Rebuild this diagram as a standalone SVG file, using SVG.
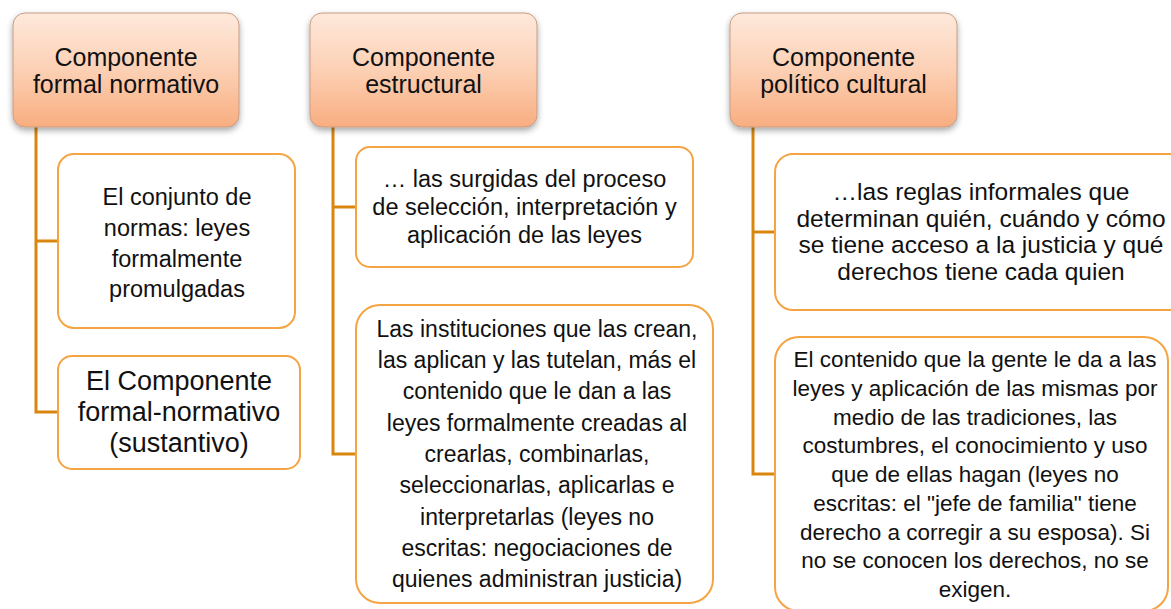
<svg xmlns="http://www.w3.org/2000/svg" width="1171" height="609" viewBox="0 0 1171 609">
<defs>
<linearGradient id="hg" x1="0" y1="0" x2="0" y2="1">
<stop offset="0" stop-color="#fee9dc"/>
<stop offset="0.5" stop-color="#fcd0b4"/>
<stop offset="1" stop-color="#f8ad80"/>
</linearGradient>
<filter id="sh" x="-10%" y="-10%" width="120%" height="130%">
<feDropShadow dx="0" dy="3" stdDeviation="3" flood-color="#000" flood-opacity="0.35"/>
</filter>
</defs>
<style>
.hdr{fill:url(#hg);stroke:#c79c82;stroke-width:1;filter:url(#sh)}
.box{fill:#fff;stroke:#f5a443;stroke-width:2}
.con{fill:none;stroke:#d9860f;stroke-width:3}
text{font-family:"Liberation Sans",Arial,sans-serif;fill:#111;text-anchor:middle}
.h{font-size:25px}
</style>
<rect width="1171" height="609" fill="#fff"/>
<g id="connectors">
<path class="con" d="M36 127 V412 H58 M36 241 H58"/>
<path class="con" d="M333 127 V454 H356 M333 207 H356"/>
<path class="con" d="M753 127 V474 H775 M753 232 H775"/>
</g>
<g id="header1">
<rect class="hdr" x="13" y="13" width="226" height="114" rx="12"/>
<text class="h" x="126" y="66">Componente</text>
<text class="h" x="126" y="93">formal normativo</text>
</g>
<g id="header2">
<rect class="hdr" x="310" y="13" width="227" height="114" rx="12"/>
<text class="h" x="423.5" y="66">Componente</text>
<text class="h" x="423.5" y="93">estructural</text>
</g>
<g id="header3">
<rect class="hdr" x="730" y="13" width="227" height="114" rx="12"/>
<text class="h" x="843.5" y="66">Componente</text>
<text class="h" x="843.5" y="93">político cultural</text>
</g>
<g id="c1a">
<rect class="box" x="58" y="154" width="237" height="174" rx="16"/>
<text font-size="23.5" x="177" y="205">El conjunto de</text>
<text font-size="23.5" x="177" y="236">normas: leyes</text>
<text font-size="23.5" x="177" y="267">formalmente</text>
<text font-size="23.5" x="177" y="297">promulgadas</text>
</g>
<g id="c1b">
<rect class="box" x="58" y="356" width="242" height="113" rx="14"/>
<text font-size="27" x="179" y="390">El Componente</text>
<text font-size="27" x="179" y="421">formal-normativo</text>
<text font-size="27" x="179" y="452">(sustantivo)</text>
</g>
<g id="c2a">
<rect class="box" x="356" y="147" width="337" height="120" rx="14"/>
<text font-size="23.5" x="524.5" y="187">… las surgidas del proceso</text>
<text font-size="23.5" x="524.5" y="215">de selección, interpretación y</text>
<text font-size="23.5" x="524.5" y="243">aplicación de las leyes</text>
</g>
<g id="c2b">
<rect class="box" x="356" y="305" width="357" height="298" rx="24"/>
<text font-size="23" x="537" y="337">Las instituciones que las crean,</text>
<text font-size="23" x="537" y="368">las aplican y las tutelan, más el</text>
<text font-size="23" x="537" y="399">contenido que le dan a las</text>
<text font-size="23" x="537" y="431">leyes formalmente creadas al</text>
<text font-size="23" x="537" y="462">crearlas, combinarlas,</text>
<text font-size="23" x="537" y="493">seleccionarlas, aplicarlas e</text>
<text font-size="23" x="537" y="525">interpretarlas (leyes no</text>
<text font-size="23" x="537" y="556">escritas: negociaciones de</text>
<text font-size="23" x="537" y="587">quienes administran justicia)</text>
</g>
<g id="c3a">
<rect class="box" x="775" y="154" width="412" height="156" rx="18"/>
<text font-size="24.5" x="981" y="200">…las reglas informales que</text>
<text font-size="24.5" x="981" y="227">determinan quién, cuándo y cómo</text>
<text font-size="24.5" x="981" y="253">se tiene acceso a la justicia y qué</text>
<text font-size="24.5" x="981" y="280">derechos tiene cada quien</text>
</g>
<g id="c3b">
<rect class="box" x="775" y="337" width="393" height="274" rx="24"/>
<text font-size="22.5" x="975" y="367">El contenido que la gente le da a las</text>
<text font-size="22.5" x="975" y="396">leyes y aplicación de las mismas por</text>
<text font-size="22.5" x="975" y="425">medio de las tradiciones, las</text>
<text font-size="22.5" x="975" y="453">costumbres, el conocimiento y uso</text>
<text font-size="22.5" x="975" y="482">que de ellas hagan (leyes no</text>
<text font-size="22.5" x="975" y="511">escritas: el "jefe de familia" tiene</text>
<text font-size="22.5" x="975" y="540">derecho a corregir a su esposa). Si</text>
<text font-size="22.5" x="975" y="568">no se conocen los derechos, no se</text>
<text font-size="22.5" x="975" y="597">exigen.</text>
</g>
</svg>
